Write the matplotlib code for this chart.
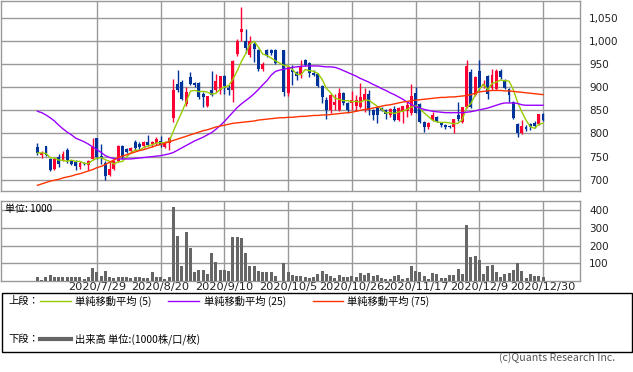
import numpy as np
import pandas as pd
import matplotlib
matplotlib.use("Agg")
import matplotlib.pyplot as plt
from matplotlib.lines import Line2D
from matplotlib.patches import Rectangle
from matplotlib.ticker import FuncFormatter

# trading days (Tokyo), 2020-07-07 .. 2020-12-30
holidays = ["2020-07-23", "2020-07-24", "2020-08-10", "2020-09-21",
            "2020-09-22", "2020-11-03", "2020-11-23"]
days = pd.bdate_range("2020-07-07", "2020-12-30")
days = days[~days.isin(pd.to_datetime(holidays))]
tick_dates = ["2020-07-29", "2020-08-20", "2020-09-10", "2020-10-05",
              "2020-10-26", "2020-11-17", "2020-12-09", "2020-12-30"]

# OHLC (10/1: no trading)
opens = [771, 753, 772, 744, 723, 750, 743, 764, 740, 738, 728, 737, 731, 745, 790,
         752, 737, 710, 723, 740, 774, 766, 762, 782, 778, 772, 782, 777, 780, 783,
         771, 780, 834, 906, 911, 864, 923, 909, 909, 886, 860, 893, 893, 893, 924,
         899, 893, 972, 1020, 1000, 970, 994, 980, 939, 980, 981, 980, None, 980, 888,
         937, 932, 928, 958, 953, 931, 928, 902, 872, 850, 861, 850, 888, 865, 865,
         859, 857, 872, 886, 850, 857, 856, 850, 840, 854, 830, 849, 848, 845, 887,
         864, 824, 814, 830, 836, 822, 818, 817, 813, 840, 825, 857, 932, 883, 936,
         902, 924, 899, 897, 936, 915, 897, 868, 820, 801, 813, 820, 822, 820, 842]
highs = [779, 762, 773, 748, 748, 755, 763, 768, 742, 742, 740, 739, 742, 791, 791,
         777, 740, 740, 742, 775, 775, 768, 771, 785, 782, 783, 796, 784, 792, 795,
         783, 792, 918, 938, 915, 900, 934, 912, 912, 890, 882, 936, 929, 925, 926,
         905, 958, 1004, 1074, 1026, 1010, 997, 983, 955, 982, 983, 982, None, 980, 945,
         947, 935, 958, 960, 955, 937, 930, 904, 879, 886, 886, 899, 890, 867, 891,
         883, 909, 899, 895, 852, 860, 858, 852, 855, 860, 858, 860, 868, 908, 900,
         866, 826, 825, 847, 838, 824, 821, 819, 832, 868, 858, 958, 940, 925, 958,
         915, 926, 940, 940, 940, 918, 899, 870, 822, 830, 818, 823, 826, 843, 844]
lows = [753, 748, 752, 719, 721, 728, 741, 737, 731, 720, 724, 732, 722, 742, 745,
        735, 699, 708, 720, 738, 745, 757, 759, 765, 766, 768, 774, 770, 776, 770,
        768, 765, 825, 890, 872, 860, 905, 900, 874, 857, 858, 880, 890, 885, 885,
        884, 867, 968, 1001, 975, 965, 955, 935, 936, 965, 970, 950, None, 882, 880,
        905, 915, 920, 945, 922, 924, 900, 865, 832, 845, 850, 848, 862, 845, 850,
        848, 855, 847, 840, 830, 823, 848, 832, 836, 828, 828, 822, 836, 840, 844,
        822, 803, 810, 826, 825, 815, 810, 811, 800, 828, 822, 855, 855, 880, 895,
        898, 875, 895, 893, 918, 897, 868, 832, 793, 798, 806, 808, 812, 818, 827]
closes = [758, 758, 754, 721, 744, 735, 756, 743, 734, 729, 737, 734, 740, 771, 749,
          746, 709, 724, 741, 774, 749, 760, 769, 768, 771, 781, 776, 782, 787, 775,
          780, 790, 895, 893, 874, 889, 906, 904, 879, 878, 880, 884, 913, 924, 902,
          893, 956, 1001, 1026, 985, 1001, 983, 939, 951, 969, 974, 952, None, 890, 944,
          932, 924, 944, 947, 931, 926, 902, 879, 850, 884, 868, 888, 865, 850, 873,
          872, 879, 885, 850, 840, 840, 850, 842, 854, 830, 856, 859, 861, 880, 845,
          824, 813, 822, 839, 827, 818, 815, 815, 831, 831, 857, 946, 857, 922, 899,
          908, 886, 926, 936, 922, 899, 883, 834, 801, 816, 809, 814, 816, 843, 830]
# volume, 1000 shares
volumes = [25, 8, 22, 35, 25, 25, 25, 25, 20, 25, 22, 14, 25, 72, 51,
           31, 55, 25, 16, 25, 25, 22, 16, 22, 20, 16, 16, 49, 20, 20,
           14, 25, 417, 252, 82, 275, 184, 53, 64, 64, 40, 161, 110, 64, 64,
           57, 246, 246, 241, 161, 82, 87, 59, 53, 49, 53, 30, 0, 104, 53,
           36, 27, 30, 25, 15, 20, 42, 57, 42, 28, 15, 34, 25, 25, 30,
           25, 46, 36, 46, 28, 34, 17, 13, 13, 28, 34, 13, 19, 82, 57,
           51, 28, 13, 46, 42, 19, 19, 36, 36, 70, 42, 315, 138, 144, 121,
           42, 87, 93, 53, 25, 42, 47, 64, 99, 59, 19, 42, 30, 28, 25]
# 25- and 75-day averages as drawn (they use history before the window)
ma25 = [848, 845, 840, 834, 827, 818, 810, 803, 797, 790, 786, 782, 777, 771, 765,
        759, 752, 748, 746, 745, 745, 745, 745, 746, 747, 748, 749, 750, 751, 752,
        754, 756, 759, 764, 769, 774, 779, 784, 788, 792, 797, 802, 809, 817, 826,
        836, 846, 856, 864, 871, 878, 886, 895, 905, 914, 926, 934, 937, 939, 941,
        943, 944, 945, 946, 946, 946, 946, 945, 944, 944, 943, 940, 936, 932, 928,
        924, 919, 915, 911, 906, 902, 897, 893, 888, 884, 879, 874, 868, 863, 858,
        855, 852, 850, 848, 847, 846, 845, 845, 845, 845, 845, 846, 847, 849, 851,
        853, 855, 858, 861, 864, 866, 866, 866, 865, 862, 861, 861, 861, 861, 861]
ma75 = [688, 691, 694, 697, 699, 701, 704, 706, 708, 711, 713, 716, 719, 722, 726,
        729, 733, 738, 743, 748, 751, 754, 757, 760, 763, 765, 768, 771, 774, 776,
        779, 782, 785, 788, 791, 794, 797, 800, 803, 806, 808, 811, 814, 816, 818,
        820, 822, 823, 824, 825, 826, 827, 829, 830, 831, 832, 833, 834, 834, 835,
        835, 836, 837, 837, 838, 839, 839, 840, 840, 841, 842, 843, 844, 845, 846,
        848, 850, 852, 853, 855, 857, 859, 861, 862, 864, 866, 868, 869, 871, 872,
        873, 874, 875, 876, 877, 878, 878, 879, 879, 880, 881, 882, 884, 887, 890,
        891, 892, 893, 893, 893, 892, 892, 891, 890, 889, 888, 887, 886, 885, 884]

UP, DOWN = "#ff0033", "#003399"
GRID = "#999999"

df = pd.DataFrame({"open": opens, "high": highs, "low": lows, "close": closes,
                   "vol": volumes, "ma25": ma25, "ma75": ma75}, index=days).astype(float)
x = np.arange(len(df))
c = df["close"].dropna()
ma5 = c.rolling(5, min_periods=1).mean()
x5 = x[df["close"].notna().values]
tick_pos = [days.get_loc(pd.Timestamp(d)) for d in tick_dates]
tick_lab = [pd.Timestamp(d).strftime("%Y/%-m/%-d") for d in tick_dates]

W, H = 633, 372
fig = plt.figure(figsize=(W / 100, H / 100), dpi=100)


def box(x0, y0, x1, y1):
    return [x0 / W, 1 - y1 / H, (x1 - x0) / W, (y1 - y0) / H]


xlim = (-8.7, 127.7)
ax = fig.add_axes(box(0.5, 0.5, 580, 190.7))
ax2 = fig.add_axes(box(0.5, 201, 580, 281))

# candles
ok = df["close"].notna().values
d = df[ok]
xs = x[ok]
col = np.where(d["close"] >= d["open"], UP, DOWN)
ax.vlines(xs, d["low"], d["high"], colors=col, lw=1, zorder=3)
body = (d["close"] - d["open"]).abs().clip(lower=0.8)
ax.bar(xs, body, bottom=d[["open", "close"]].min(axis=1), width=0.68,
       color=col, edgecolor="none", zorder=3)
ax.plot(x5, ma5.values, color="#99cc00", lw=1, zorder=4)
ax.plot(x, df["ma25"], color="#9900ff", lw=1, zorder=4)
ax.plot(x, df["ma75"], color="#ff3300", lw=1, zorder=4)

ax.set_xlim(*xlim)
ax.set_ylim(676.3, 1087.5)
ax.set_yticks(np.arange(700, 1051, 50))
ax.yaxis.set_major_formatter(FuncFormatter(lambda v, p: f"{v:,.0f}"))
ax.set_xticks(tick_pos)
ax.set_xticklabels([])

ax2.bar(x, df["vol"], width=0.72, color="#666666", zorder=3)
ax2.set_xlim(*xlim)
ax2.set_ylim(0, 452)
ax2.set_yticks([100, 200, 300, 400])
ax2.set_xticks(tick_pos)
ax2.set_xticklabels(tick_lab)
ax2.text(0.008, 0.9, "単位: 1000", transform=ax2.transAxes, fontsize=7.2,
         va="center", ha="left", family=["Noto Sans CJK JP", "DejaVu Sans"], zorder=1)

for a in (ax, ax2):
    a.yaxis.tick_right()
    a.tick_params(length=0, labelsize=7.5, colors="#222222")
    a.tick_params(axis="y", pad=6.5)
    a.tick_params(axis="x", pad=1, labelsize=8.2)
    a.grid(True, color=GRID, lw=1)
    a.set_axisbelow(True)
    for s in a.spines.values():
        s.set_color(GRID)
        s.set_linewidth(1)

# legend box
jp = ["Noto Sans CJK JP", "DejaVu Sans"]
fig.add_artist(Rectangle((1.5 / W, 1 - 352 / H), 630 / W, 59 / H, transform=fig.transFigure,
                         fill=False, edgecolor="black", lw=1))


def legline(x0, x1, y, color, lw):
    fig.add_artist(Line2D([x0 / W, x1 / W], [1 - y / H, 1 - y / H],
                          transform=fig.transFigure, color=color, lw=lw))


def legtext(px, py, s, **kw):
    fig.text(px / W, 1 - py / H, s, va="center", ha="left", fontsize=7.4, family=jp, **kw)


legtext(8, 301, "上段：")
legline(40, 71, 301, "#99cc00", 1)
legtext(75, 301, "単純移動平均 (5)")
legline(168, 199, 301, "#9900ff", 1)
legtext(204, 301, "単純移動平均 (25)")
legline(313, 343, 301, "#ff3300", 1)
legtext(347, 301, "単純移動平均 (75)")
legtext(8, 339, "下段：")
legline(40, 71, 339, "#666666", 3)
legtext(75, 339, "出来高 単位:(1000株/口/枚)")

fig.text(615 / W, 1 - 358 / H, "(c)Quants Research Inc.", ha="right", va="center",
         fontsize=7.6, color="#555555", family=jp)

fig.savefig("out.png", dpi=100, facecolor="white")
